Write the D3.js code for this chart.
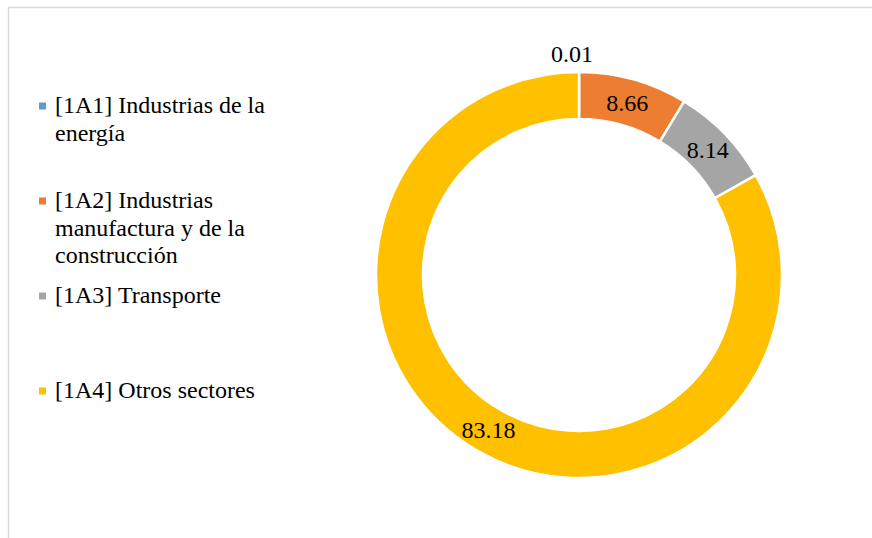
<!DOCTYPE html>
<html>
<head>
<meta charset="utf-8">
<script src="https://d3js.org/d3.v7.min.js"></script>
</head>
<body style="margin:0">
<svg id="chart" width="872" height="538" style="font-family: 'Liberation Serif', serif;"></svg>
<script>
// data
const categories = ["[1A1] Industrias de la energía",
                    "[1A2] Industrias manufactura y de la construcción",
                    "[1A3] Transporte",
                    "[1A4] Otros sectores"];
const legendLines = [["[1A1] Industrias de la", "energía"],
                     ["[1A2] Industrias", "manufactura y de la", "construcción"],
                     ["[1A3] Transporte"],
                     ["[1A4] Otros sectores"]];
const values = [0.01, 8.66, 8.14, 83.18];
const colors = ["#5b9bd5", "#ed7d31", "#a5a5a5", "#ffc000"];

const svg = d3.select("#chart");

// chart border (only top/left visible in the frame)
svg.append("rect")
  .attr("x", 8.5).attr("y", 7.5)
  .attr("width", 900).attr("height", 600)
  .attr("fill", "none")
  .attr("stroke", "#d9d9d9")
  .attr("stroke-width", 1.5);

var cx = 579, cy = 275;
var outerR = 203, innerR = 156;

var pie = d3.pie().sort(null).value(function(d){ return d; });
var arc = d3.arc().innerRadius(innerR).outerRadius(outerR);
var outsideArc = d3.arc().innerRadius(outerR + 18).outerRadius(outerR + 18);

var arcs = pie(values);

var g = svg.append("g").attr("transform", "translate(" + cx + "," + cy + ")");

g.selectAll("path").data(arcs).enter().append("path")
  .attr("d", arc)
  .attr("fill", function(d, i){ return colors[i]; })
  .attr("stroke", "#fff")
  .attr("stroke-width", 2.5);

// data labels: tiny slice goes outside, rest inside the ring
g.selectAll("text.lbl").data(arcs).enter().append("text")
  .attr("class", "lbl")
  .attr("transform", function(d){
    var c = (d.data < 1) ? outsideArc.centroid(d) : arc.centroid(d);
    return "translate(" + c + ")";
  })
  .attr("dx", function(d){ return d.data < 1 ? -7 : 0; })
  .attr("dy", "0.35em")
  .attr("text-anchor", "middle")
  .style("font-family", "Liberation Serif")
  .style("font-size", "24px")
  .text(function(d){ return d3.format(".2f")(d.data); });

// legend
var legendY = [113, 208, 303, 398];
var lineH = 27.5;
legendLines.forEach(function(lines, i){
  svg.append("rect")
    .attr("x", 39).attr("y", legendY[i] - 10.5)
    .attr("width", 7).attr("height", 7)
    .attr("fill", colors[i]);
  lines.forEach(function(l, j){
    svg.append("text")
      .attr("x", 55).attr("y", legendY[i] + j * lineH)
      .style("font-family", "Liberation Serif")
      .style("font-size", "24px")
      .text(l);
  });
});
</script>
</body>
</html>
